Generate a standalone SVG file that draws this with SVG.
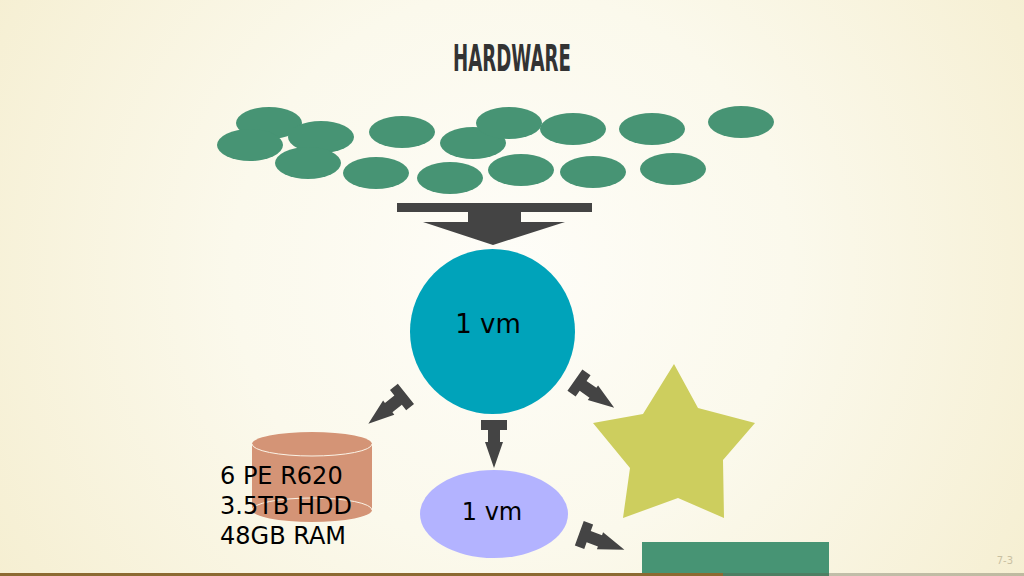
<svg xmlns="http://www.w3.org/2000/svg" width="1024" height="576" viewBox="0 0 1024 576">
  <defs>
    <radialGradient id="bg" cx="512" cy="270" r="620" gradientUnits="userSpaceOnUse">
      <stop offset="0" stop-color="#fefdf8"/>
      <stop offset="0.45" stop-color="#fbf9ec"/>
      <stop offset="1" stop-color="#f5eed0"/>
    </radialGradient>
    <path id="sarrow" d="M-13,-5 H13 V5 H6 V17 H9 L0,43 L-9,17 H-6 V5 H-13 Z"/>
  </defs>
  <style>
    .blob { fill: #479474; }
    .arrow { fill: #444444; }
    .lbl { font-family: "DejaVu Sans", Verdana, sans-serif; fill: #000; }
    .title { font-family: "Liberation Sans Narrow", "DejaVu Sans Condensed", "Liberation Sans", sans-serif; font-weight: bold; fill: #333333; }
  </style>
  <rect x="0" y="0" width="1024" height="576" fill="url(#bg)"/>

  <text class="title" x="512" y="71" font-size="38" text-anchor="middle" textLength="118" lengthAdjust="spacingAndGlyphs">HARDWARE</text>

  <g id="cloud">
    <ellipse class="blob" cx="269" cy="123" rx="33" ry="16"/>
    <ellipse class="blob" cx="250" cy="145" rx="33" ry="16"/>
    <ellipse class="blob" cx="321" cy="137" rx="33" ry="16"/>
    <ellipse class="blob" cx="308" cy="163" rx="33" ry="16"/>
    <ellipse class="blob" cx="402" cy="132" rx="33" ry="16"/>
    <ellipse class="blob" cx="376" cy="173" rx="33" ry="16"/>
    <ellipse class="blob" cx="473" cy="143" rx="33" ry="16"/>
    <ellipse class="blob" cx="509" cy="123" rx="33" ry="16"/>
    <ellipse class="blob" cx="450" cy="178" rx="33" ry="16"/>
    <ellipse class="blob" cx="521" cy="170" rx="33" ry="16"/>
    <ellipse class="blob" cx="573" cy="129" rx="33" ry="16"/>
    <ellipse class="blob" cx="593" cy="172" rx="33" ry="16"/>
    <ellipse class="blob" cx="652" cy="129" rx="33" ry="16"/>
    <ellipse class="blob" cx="673" cy="169" rx="33" ry="16"/>
    <ellipse class="blob" cx="741" cy="122" rx="33" ry="16"/>
  </g>

  <g id="connectors">
    <path class="arrow" d="M397,203 H592 V212 H521 V222 H565 L493,245 L423,222 H468 V212 H397 Z"/>
    <use href="#sarrow" class="arrow" transform="translate(402,397) rotate(51.5)"/>
    <use href="#sarrow" class="arrow" transform="translate(494,425)"/>
    <use href="#sarrow" class="arrow" transform="translate(579,383) rotate(-55)"/>
    <use href="#sarrow" class="arrow" transform="translate(584,535) rotate(-70)"/>
  </g>

  <g id="vm-main">
    <circle cx="492.5" cy="331.5" r="82.5" fill="#00a3ba"/>
    <text class="lbl" x="488" y="333" font-size="26" text-anchor="middle">1 vm</text>
  </g>

  <g id="storage">
    <path d="M252,444 V510 A60,12 0 0 0 372,510 V444 A60,12 0 0 0 252,444 Z" fill="#d49476"/>
    <path d="M252,444 A60,12 0 0 0 372,444" fill="none" stroke="#fbf3e6" stroke-width="1"/>
    <path d="M252,510 A60,12 0 0 1 372,510" fill="none" stroke="#fbf3e6" stroke-width="1"/>
    <text class="lbl" font-size="24">
      <tspan x="220" y="484">6 PE R620</tspan>
      <tspan x="220" y="514">3.5TB HDD</tspan>
      <tspan x="220" y="544">48GB RAM</tspan>
    </text>
  </g>

  <g id="vm-small">
    <ellipse cx="494" cy="514" rx="74" ry="44" fill="#b3b3ff"/>
    <text class="lbl" x="492" y="520" font-size="24" text-anchor="middle">1 vm</text>
  </g>

  <g id="star">
    <polygon points="674,364 698,408 755,423 723,460 724,518 678,498 623,518 630,468 593,423 643,414" fill="#cdce5e"/>
  </g>

  <g id="block">
    <rect x="642" y="542" width="187" height="34" fill="#479474"/>
  </g>

  <rect x="0" y="573" width="723" height="3" fill="#8c6a32"/>
  <rect x="723" y="573" width="301" height="3" fill="#5a5a46" fill-opacity="0.35"/>
  <text x="1013" y="564" font-family="DejaVu Sans, sans-serif" font-size="10" fill="#c9c0a2" text-anchor="end">7-3</text>
</svg>
